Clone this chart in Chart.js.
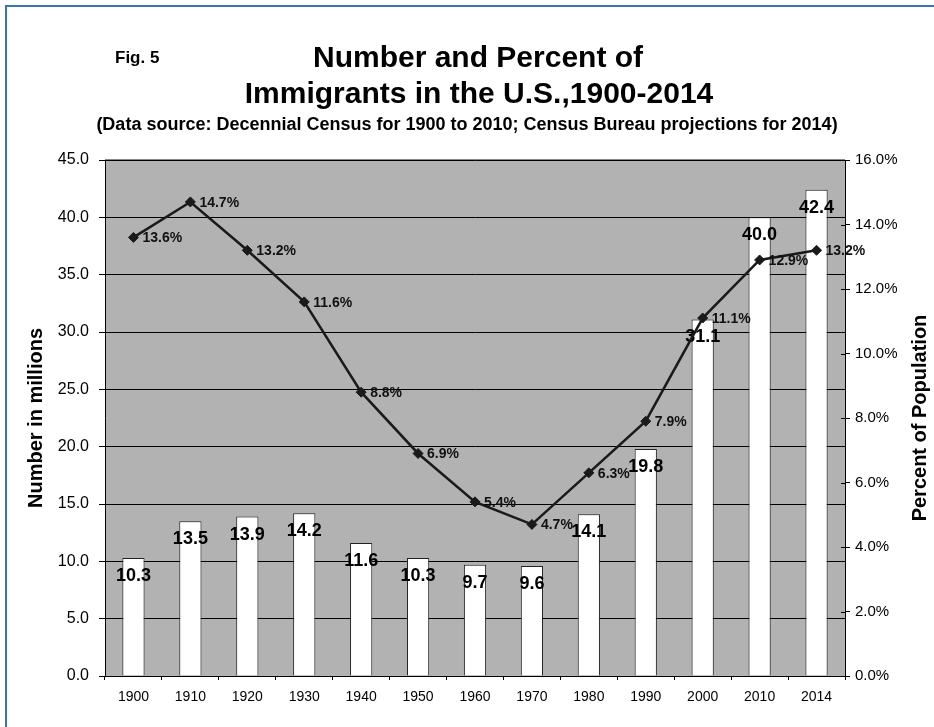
<!DOCTYPE html>
<html>
<head>
<meta charset="utf-8">
<title>Number and Percent of Immigrants in the U.S., 1900-2014</title>
<script src="https://cdn.jsdelivr.net/npm/chart.js@4.4.1/dist/chart.umd.min.js"></script>
<style>
  html, body { margin: 0; padding: 0; background: #fff; }
  #wrap { position: relative; width: 934px; height: 727px; overflow: hidden; }
  #frame {
    position: absolute; left: 5px; top: 5px; width: 960px; height: 760px;
    border-left: 2px solid #3f72af; border-top: 2px solid #3f72af;
    pointer-events: none;
  }
</style>
</head>
<body>
<div id="wrap">
  <canvas id="chart" width="934" height="727"></canvas>
  <div id="frame"></div>
</div>
<script>
// Data
const years = ['1900', '1910', '1920', '1930', '1940', '1950', '1960', '1970', '1980', '1990', '2000', '2010', '2014'];
const immigrantsMillions = [10.3, 13.5, 13.9, 14.2, 11.6, 10.3, 9.7, 9.6, 14.1, 19.8, 31.1, 40.0, 42.4];
const percentOfPopulation = [13.6, 14.7, 13.2, 11.6, 8.8, 6.9, 5.4, 4.7, 6.3, 7.9, 11.1, 12.9, 13.2];
const millionTicks = [0, 5, 10, 15, 20, 25, 30, 35, 40, 45];
const percentTicks = [0, 2, 4, 6, 8, 10, 12, 14, 16];

const figLabel = 'Fig. 5';
const titleLines = ['Number and Percent of', 'Immigrants in the U.S.,1900-2014'];
const subtitle = '(Data source: Decennial Census for 1900 to 2010; Census Bureau projections for 2014)';
const leftTitle = 'Number in millions';
const rightTitle = 'Percent of Population';

const FONT = '"Liberation Sans", Arial, sans-serif';

// Plugins
const plotBackground = {
  id: 'plotBackground',
  beforeDraw(chart) {
    const { ctx, chartArea: a } = chart;
    ctx.save();
    ctx.fillStyle = '#b2b2b2';
    ctx.fillRect(a.left, a.top, a.right - a.left, a.bottom - a.top);
    ctx.strokeStyle = '#8a8a8a';
    ctx.lineWidth = 2;
    ctx.beginPath();
    ctx.moveTo(a.left, a.top);
    ctx.lineTo(a.right, a.top);
    ctx.stroke();
    ctx.restore();
  }
};

const valueLabels = {
  id: 'valueLabels',
  afterDatasetDraw(chart, args) {
    const { ctx } = chart;
    const meta = args.meta;
    ctx.save();
    ctx.fillStyle = '#000';
    ctx.textBaseline = 'middle';
    if (meta.type === 'bar') {
      ctx.font = `bold 18px ${FONT}`;
      ctx.textAlign = 'center';
      meta.data.forEach((bar, i) => {
        ctx.fillText(immigrantsMillions[i].toFixed(1), bar.x, bar.y + 18);
      });
    } else if (meta.type === 'line') {
      ctx.font = `bold 14px ${FONT}`;
      ctx.textAlign = 'left';
      ctx.fillStyle = '#111';
      meta.data.forEach((pt, i) => {
        ctx.fillText(percentOfPopulation[i].toFixed(1) + '%', pt.x + 9, pt.y + 1);
      });
    }
    ctx.restore();
  }
};

const headerText = {
  id: 'headerText',
  afterDraw(chart) {
    const { ctx, chartArea: a } = chart;
    ctx.save();
    ctx.fillStyle = '#000';
    ctx.textBaseline = 'alphabetic';

    ctx.textAlign = 'left';
    ctx.font = `bold 17px ${FONT}`;
    ctx.fillText(figLabel, 115, 63);

    ctx.textAlign = 'center';
    ctx.font = `bold 30px ${FONT}`;
    ctx.fillText(titleLines[0], 478, 67);
    ctx.fillText(titleLines[1], 479, 103);

    ctx.font = `bold 18px ${FONT}`;
    ctx.fillText(subtitle, 467, 130);

    // right axis title reads upward, like the left one
    ctx.font = `bold 20px ${FONT}`;
    ctx.textBaseline = 'middle';
    ctx.translate(920, (a.top + a.bottom) / 2);
    ctx.rotate(-Math.PI / 2);
    ctx.fillText(rightTitle, 0, 0);
    ctx.restore();

    // right axis tick marks cross into the plot a little
    const y1 = chart.scales.y1;
    ctx.save();
    ctx.strokeStyle = '#000';
    ctx.lineWidth = 1;
    ctx.beginPath();
    percentTicks.forEach(v => {
      const y = Math.round(y1.getPixelForValue(v)) + 0.5;
      ctx.moveTo(a.right - 4, y);
      ctx.lineTo(a.right, y);
    });
    ctx.stroke();
    ctx.restore();
  }
};

// Chart
new Chart(document.getElementById('chart'), {
  data: {
    labels: years,
    datasets: [
      {
        type: 'line',
        label: 'Percent of Population',
        data: percentOfPopulation,
        yAxisID: 'y1',
        order: 0,
        borderColor: '#1a1a1a',
        borderWidth: 2.5,
        tension: 0,
        pointStyle: 'rectRot',
        pointRadius: 5,
        pointBorderWidth: 1,
        pointBackgroundColor: '#1a1a1a',
        pointBorderColor: '#1a1a1a'
      },
      {
        type: 'bar',
        label: 'Number in millions',
        data: immigrantsMillions,
        yAxisID: 'y',
        order: 1,
        backgroundColor: '#ffffff',
        borderColor: '#222',
        borderWidth: 1,
        categoryPercentage: 1,
        barPercentage: 0.39
      }
    ]
  },
  options: {
    responsive: false,
    animation: false,
    devicePixelRatio: 1,
    layout: { padding: { top: 160, left: 0, right: 0, bottom: 0 } },
    plugins: {
      legend: { display: false },
      tooltip: { enabled: false },
      title: { display: false }
    },
    scales: {
      x: {
        offset: true,
        grid: { offset: true, drawOnChartArea: false, tickLength: 4, color: '#000', tickColor: '#000' },
        border: { color: '#000', width: 1 },
        ticks: { color: '#000', font: { family: FONT, size: 14 }, padding: 9, maxRotation: 0 },
        afterFit: s => { s.height = 51; }
      },
      y: {
        position: 'left',
        min: millionTicks[0],
        max: millionTicks[millionTicks.length - 1],
        afterBuildTicks: s => { s.ticks = millionTicks.map(v => ({ value: v })); },
        ticks: {
          color: '#000',
          font: { family: FONT, size: 16 },
          padding: 10,
          callback: v => Number(v).toFixed(1)
        },
        grid: { color: '#000', tickColor: '#000', tickLength: 6, lineWidth: 1 },
        border: { color: '#000', width: 1 },
        title: {
          display: true,
          text: leftTitle,
          color: '#000',
          font: { family: FONT, size: 20, weight: 'bold' },
          padding: { top: 24, bottom: 0 }
        },
        afterFit: s => { s.width = 105; }
      },
      y1: {
        position: 'right',
        min: percentTicks[0],
        max: percentTicks[percentTicks.length - 1],
        afterBuildTicks: s => { s.ticks = percentTicks.map(v => ({ value: v })); },
        ticks: {
          color: '#000',
          font: { family: FONT, size: 15 },
          padding: 5,
          callback: v => Number(v).toFixed(1) + '%'
        },
        grid: { drawOnChartArea: false, tickColor: '#000', tickLength: 5 },
        border: { color: '#000', width: 1 },
        afterFit: s => { s.width = 89; }
      }
    }
  },
  plugins: [plotBackground, valueLabels, headerText]
});
</script>
</body>
</html>
